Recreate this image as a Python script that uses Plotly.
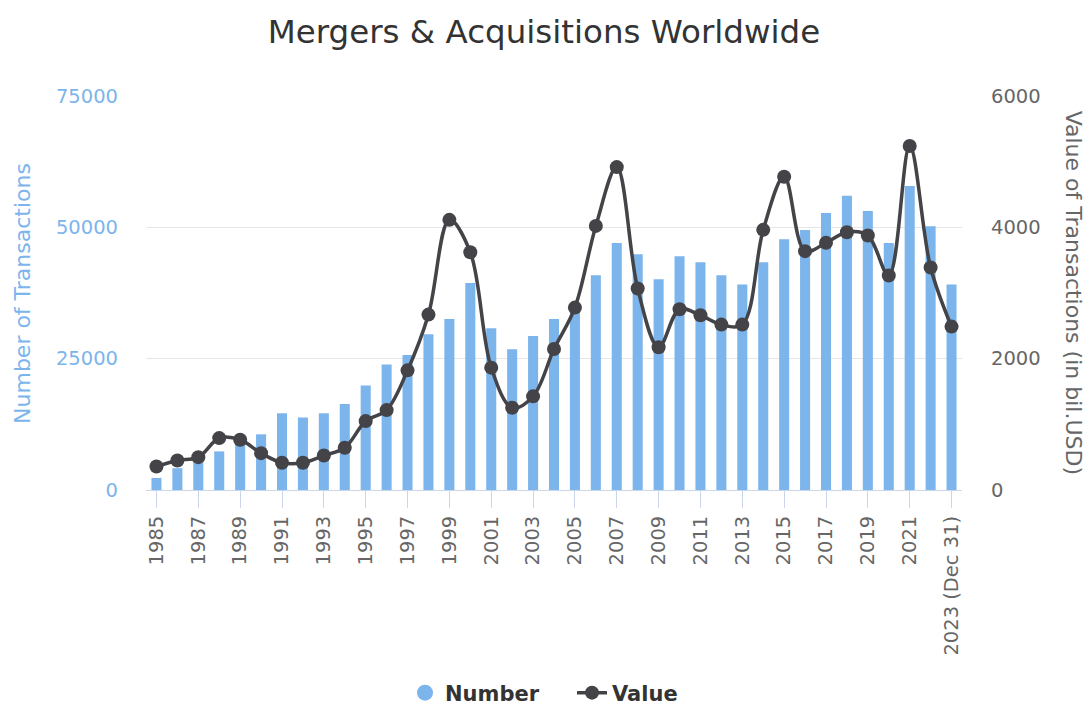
import plotly.graph_objects as go

years = [str(y) for y in range(1985, 2023)] + ["2023 (Dec 31)"]
number_of_transactions = [2300, 4150, 5400, 7350, 9300, 10600, 14600, 13800, 14600, 16350,
                          19900, 23900, 25700, 29650, 32550, 39400, 30800, 26800, 29300, 32550,
                          35000, 40900, 47000, 44900, 40100, 44500, 43350, 40900, 39100, 43350,
                          47750, 49500, 52750, 56000, 53100, 47000, 57850, 50200, 39100]
value_bil_usd = [358, 450, 500, 790, 765, 561, 415, 415, 526, 643,
                 1049, 1217, 1822, 2671, 4114, 3621, 1863, 1253, 1426, 2147,
                 2778, 4022, 4917, 3068, 2173, 2752, 2661, 2519, 2519, 3962,
                 4770, 3637, 3764, 3926, 3876, 3266, 5238, 3388, 2488]
left_ticks = [0, 25000, 50000, 75000]
right_ticks = [0, 2000, 4000, 6000]

BLUE = "#7cb5ec"
DARK = "#434348"
FONT = "DejaVu Sans"

fig = go.Figure()
fig.add_trace(go.Bar(x=years, y=number_of_transactions, name="Number", marker_color=BLUE,
                     marker_line_width=0, showlegend=False))
# legend proxy for bars (circle symbol as in the reference)
fig.add_trace(go.Scatter(x=[None], y=[None], mode="markers", name="Number",
                         marker=dict(color=BLUE, size=20, symbol="circle")))
fig.add_trace(go.Scatter(x=years, y=value_bil_usd, name="Value", yaxis="y2",
                         mode="lines+markers", line=dict(color=DARK, width=3.5, shape="spline", smoothing=1.0),
                         marker=dict(color=DARK, size=14)))

fig.update_layout(
    width=1088, height=707,
    margin=dict(l=146, r=126, t=96, b=217, pad=0),
    paper_bgcolor="white", plot_bgcolor="white",
    font=dict(family=FONT, color="#666666", size=19.5),
    title=dict(text="Mergers & Acquisitions Worldwide", x=0.5, xanchor="center", y=1 - 32 / 707, yanchor="middle",
               font=dict(family=FONT, size=32.5, color="#333333")),
    bargap=0.52,
    xaxis=dict(type="category", range=[-0.5, len(years) - 0.5], autorange=False,
               tickmode="array", tickvals=years[::2], tickangle=-90,
               ticks="outside", ticklen=17, tickcolor="#ccd6eb", tickwidth=1,
               showline=True, linecolor="#ccd6eb", linewidth=1, showgrid=False, automargin=False,
               tickfont=dict(size=19.5, color="#666666")),
    yaxis=dict(range=[0, 75000], tickvals=left_ticks, tickformat="d", showgrid=True, gridcolor="#e6e6e6", gridwidth=1,
               zeroline=False, showline=False, ticks="", ticklabelstandoff=27, automargin=False,
               tickfont=dict(size=19.5, color=BLUE)),
    yaxis2=dict(range=[0, 6000], tickvals=right_ticks, tickformat="d", overlaying="y", side="right", showgrid=False,
                zeroline=False, showline=False, ticks="", ticklabelstandoff=28, automargin=False,
                tickfont=dict(size=19.5, color="#666666")),
    legend=dict(orientation="h", xref="container", yref="container", x=(544 + 28) / 1088, xanchor="center",
                y=1 - 693 / 707, yanchor="middle",
                font=dict(family=FONT, size=21, color="#333333", weight="bold"),
                itemsizing="trace", traceorder="normal", entrywidth=122, entrywidthmode="pixels"),
    annotations=[
        dict(text="Number of Transactions", xref="paper", yref="paper", x=(22 - 146) / 815.7, y=0.5,
             xanchor="center", yanchor="middle", textangle=-90, showarrow=False,
             font=dict(family=FONT, size=22, color=BLUE)),
        dict(text="Value of Transactions (in bil.USD)", xref="paper", yref="paper", x=(1074 - 146) / 815.7, y=0.5,
             xanchor="center", yanchor="middle", textangle=90, showarrow=False,
             font=dict(family=FONT, size=22, color="#666666")),
    ],
)

fig.write_html("out.html")
